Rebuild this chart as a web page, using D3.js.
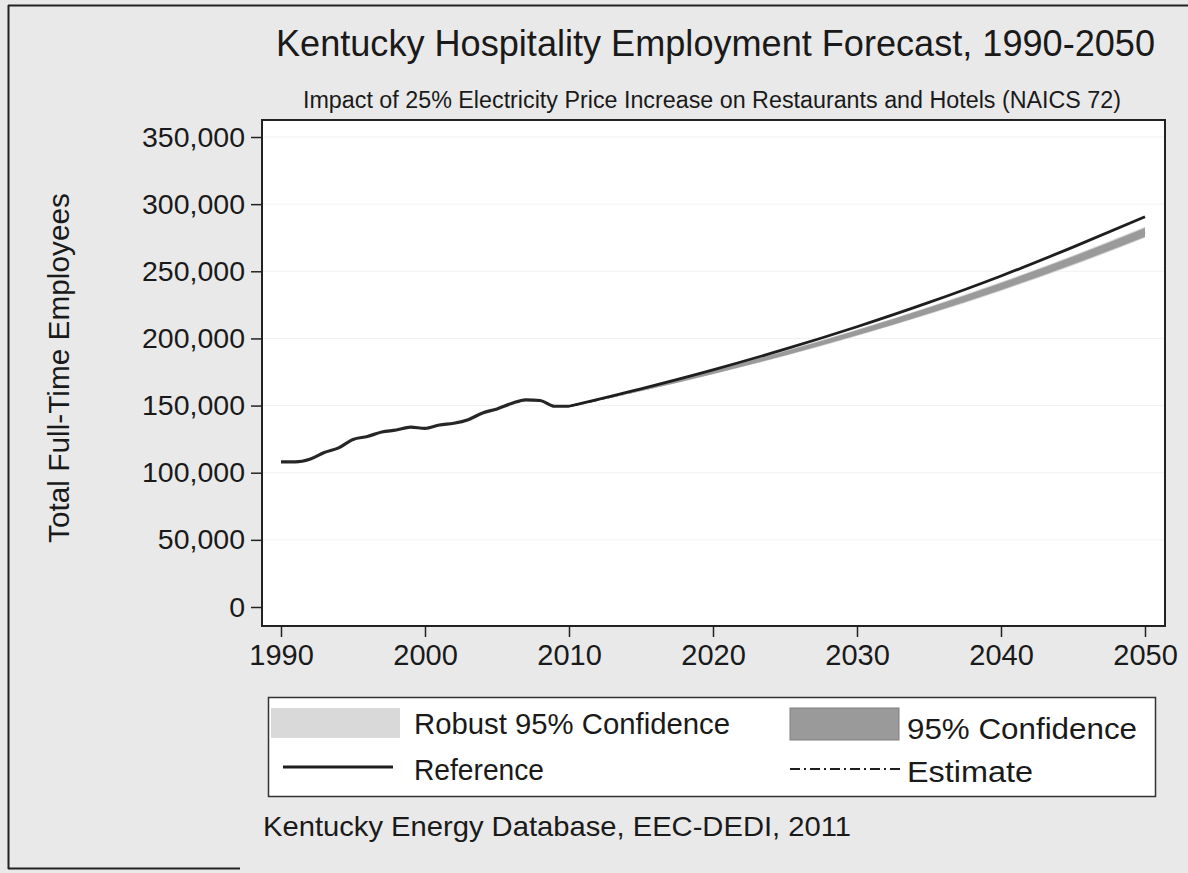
<!DOCTYPE html>
<html>
<head>
<meta charset="utf-8">
<script src="https://cdn.jsdelivr.net/npm/d3@7"></script>
<style>
  html, body { margin: 0; padding: 0; background: #e9e9e9; }
  svg { display: block; }
  text { font-family: "Liberation Sans", Arial, sans-serif; fill: #1a1a1a; }
</style>
</head>
<body>
<svg id="chart" width="1188" height="873"></svg>
<script>
// ---- data (values in employees) ----
const histYears = [1990,1991,1992,1993,1994,1995,1996,1997,1998,1999,2000,2001,2002,2003,2004,2005,2006,2007,2008,2009,2010];
const histValues = [108000,108000,110000,115000,118500,124800,127000,130300,131800,134000,133000,135500,136800,139500,144500,147500,151500,154300,153800,149500,149500];

const fcYears = [2010,2015,2020,2025,2030,2035,2040,2045,2050];
const referenceValues = [149500,162500,176600,192000,208700,226800,246500,268000,290600];
const estimateValues  = [149500,161600,174800,188900,204200,220800,238700,258100,279000];
const ci95Lower       = [149500,160800,173600,187300,202300,218600,236100,255200,275800];
const ci95Upper       = [149500,162400,176000,190500,206100,223000,241300,261000,282200];
const robustLower     = [149500,160600,173300,186900,201800,218000,235400,254400,274900];
const robustUpper     = [149500,162600,176300,190900,206600,223600,242000,261800,283100];

const yTicks = [0,50000,100000,150000,200000,250000,300000,350000];
const xTicks = [1990,2000,2010,2020,2030,2040,2050];

const titleText = "Kentucky Hospitality Employment Forecast, 1990-2050";
const subtitleText = "Impact of 25% Electricity Price Increase on Restaurants and Hotels (NAICS 72)";
const yAxisTitle = "Total Full-Time Employees";
const legendLabels = ["Robust 95% Confidence", "95% Confidence", "Reference", "Estimate"];
const sourceText = "Kentucky Energy Database, EEC-DEDI, 2011";

// ---- layout ----
const svg = d3.select("#chart");
const box = {left: 262, right: 1165, top: 120, bottom: 626};
const x = d3.scaleLinear().domain([1990, 2050]).range([281, 1145]);
const y = d3.scaleLinear().domain([0, 350000]).range([607, 137]);

// background + scan frame
svg.append("rect").attr("x", 0).attr("y", 0).attr("width", 1188).attr("height", 873).attr("fill", "#e9e9e9");
svg.append("line").attr("x1", 8.5).attr("x2", 8.5).attr("y1", 5).attr("y2", 869)
   .attr("stroke", "#222").attr("stroke-width", 2);
svg.append("line").attr("x1", 8).attr("x2", 1188).attr("y1", 5.5).attr("y2", 5.5)
   .attr("stroke", "#222").attr("stroke-width", 2);
svg.append("line").attr("x1", 8).attr("x2", 240).attr("y1", 868.5).attr("y2", 868.5)
   .attr("stroke", "#222").attr("stroke-width", 2);

// plot region
svg.append("rect").attr("x", box.left).attr("y", box.top)
   .attr("width", box.right - box.left).attr("height", box.bottom - box.top)
   .attr("fill", "#ffffff");

// faint gridlines
svg.append("g").selectAll("line").data(yTicks.slice(1)).join("line")
   .attr("x1", box.left).attr("x2", box.right)
   .attr("y1", d => y(d)).attr("y2", d => y(d))
   .attr("stroke", "#f1f1f1").attr("stroke-width", 1);

// bands
const fc = fcYears.map((yr, i) => ({yr, ref: referenceValues[i], est: estimateValues[i],
  lo: ci95Lower[i], hi: ci95Upper[i], rlo: robustLower[i], rhi: robustUpper[i]}));
const curve = d3.curveMonotoneX;

// estimate line (under bands)
svg.append("path").datum(fc)
   .attr("d", d3.line().x(d => x(d.yr)).y(d => y(d.est)).curve(curve))
   .attr("fill", "none").attr("stroke", "#222").attr("stroke-width", 2)
   .attr("stroke-dasharray", "10,4,2,4");

svg.append("path").datum(fc)
   .attr("d", d3.area().x(d => x(d.yr)).y0(d => y(d.rlo)).y1(d => y(d.rhi)).curve(curve))
   .attr("fill", "#d2d2d2");
svg.append("path").datum(fc)
   .attr("d", d3.area().x(d => x(d.yr)).y0(d => y(d.lo)).y1(d => y(d.hi)).curve(curve))
   .attr("fill", "#9a9a9a");

// reference line
svg.append("path").datum(fc)
   .attr("d", d3.line().x(d => x(d.yr)).y(d => y(d.ref)).curve(curve))
   .attr("fill", "none").attr("stroke", "#1e1e1e").attr("stroke-width", 2.8);

// historical line
const hist = histYears.map((yr, i) => ({yr, v: histValues[i]}));
svg.append("path").datum(hist)
   .attr("d", d3.line().x(d => x(d.yr)).y(d => y(d.v)).curve(d3.curveMonotoneX))
   .attr("fill", "none").attr("stroke", "#262626").attr("stroke-width", 3.2)
   .attr("stroke-linejoin", "round");

// plot box border
svg.append("rect").attr("x", box.left).attr("y", box.top)
   .attr("width", box.right - box.left).attr("height", box.bottom - box.top)
   .attr("fill", "none").attr("stroke", "#222").attr("stroke-width", 2);

// y axis
const yAxis = d3.axisLeft(y).tickValues(yTicks).tickSize(11).tickPadding(6)
   .tickFormat(d3.format(","));
const gy = svg.append("g").attr("transform", `translate(${box.left},0)`).call(yAxis);
gy.select(".domain").remove();
gy.selectAll(".tick line").attr("stroke", "#222").attr("stroke-width", 1.5);
gy.selectAll(".tick text").attr("font-size", 28.5).attr("fill", "#1a1a1a")
  .attr("font-family", "Liberation Sans, Arial, sans-serif");

// x axis
const xAxis = d3.axisBottom(x).tickValues(xTicks).tickSize(11).tickPadding(7)
   .tickFormat(d3.format("d"));
const gx = svg.append("g").attr("transform", `translate(0,${box.bottom})`).call(xAxis);
gx.select(".domain").remove();
gx.selectAll(".tick line").attr("stroke", "#222").attr("stroke-width", 1.5);
gx.selectAll(".tick text").attr("font-size", 29).attr("fill", "#1a1a1a")
  .attr("font-family", "Liberation Sans, Arial, sans-serif");

// titles
svg.append("text").attr("x", 276).attr("y", 56)
   .attr("font-size", 36).attr("textLength", 879).attr("lengthAdjust", "spacingAndGlyphs")
   .text(titleText);
svg.append("text").attr("x", 303).attr("y", 108)
   .attr("font-size", 23).attr("textLength", 818).attr("lengthAdjust", "spacingAndGlyphs")
   .text(subtitleText);
svg.append("text").attr("transform", "translate(69,543) rotate(-90)")
   .attr("font-size", 29).attr("textLength", 350).attr("lengthAdjust", "spacingAndGlyphs")
   .text(yAxisTitle);

// legend
const lg = svg.append("g");
lg.append("rect").attr("x", 268.5).attr("y", 697.5).attr("width", 887).attr("height", 99)
  .attr("fill", "#ffffff").attr("stroke", "#333").attr("stroke-width", 1.5);
lg.append("rect").attr("x", 271).attr("y", 708).attr("width", 129).attr("height", 30)
  .attr("fill", "#d9d9d9");
lg.append("rect").attr("x", 790).attr("y", 708).attr("width", 109).attr("height", 32)
  .attr("fill", "#9a9a9a").attr("stroke", "#808080").attr("stroke-width", 1);
lg.append("line").attr("x1", 283).attr("x2", 393).attr("y1", 767).attr("y2", 767)
  .attr("stroke", "#1e1e1e").attr("stroke-width", 3);
lg.append("line").attr("x1", 790).attr("x2", 900).attr("y1", 769).attr("y2", 769)
  .attr("stroke", "#1e1e1e").attr("stroke-width", 2.2).attr("stroke-dasharray", "10,4,2,4");
const legPos = [[414, 734, 316], [907, 739, 230], [414, 780, 130], [907, 782, 126]];
lg.selectAll("text.leg").data(legendLabels).join("text").attr("class", "leg")
  .attr("x", (d, i) => legPos[i][0]).attr("y", (d, i) => legPos[i][1])
  .attr("textLength", (d, i) => legPos[i][2]).attr("lengthAdjust", "spacingAndGlyphs")
  .attr("font-size", 29).text(d => d);

// source
svg.append("text").attr("x", 263).attr("y", 836).attr("font-size", 28)
   .attr("textLength", 588).attr("lengthAdjust", "spacingAndGlyphs").text(sourceText);
</script>
</body>
</html>
